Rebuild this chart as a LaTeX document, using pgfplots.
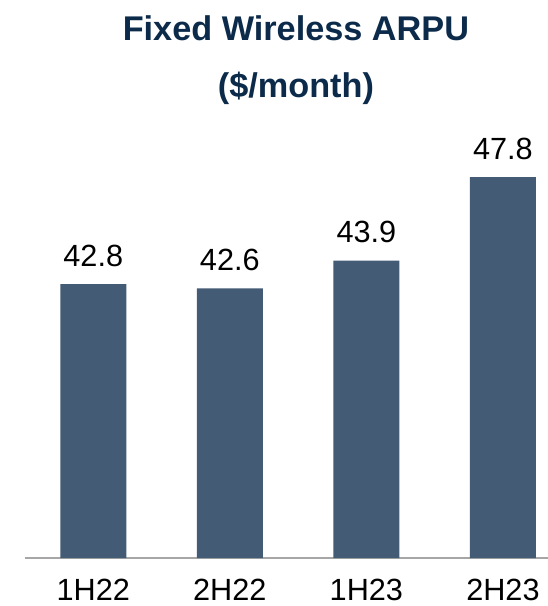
\documentclass[border=0pt]{standalone}
\usepackage{fontspec}
\setmainfont{Liberation Sans}
\usepackage{pgfplots}
\pgfplotsset{compat=1.18}
\definecolor{barc}{HTML}{435B74}
\definecolor{titlec}{HTML}{0C2A4A}
\definecolor{axc}{HTML}{A6A6A6}
\begin{document}
\begin{tikzpicture}
\begin{axis}[
  at={(0,0)}, anchor=south west,
  scale only axis,
  width=392.25pt, height=321pt,
  xmin=-0.5, xmax=3.33,
  ymin=30, ymax=50,
  axis x line=bottom,
  axis y line=none,
  axis line style={axc, line width=1.5pt, -},
  xtick={0,1,2,3},
  xticklabels={1H22,2H22,1H23,2H23},
  xtick style={draw=none},
  xticklabel style={anchor=center, yshift=-22pt, font=\fontsize{23}{27}\selectfont},
  ytick=\empty,
  clip=false,
  point meta=explicit symbolic,
  nodes near coords,
  nodes near coords style={anchor=center, yshift=21.4pt, font=\fontsize{23}{27}\selectfont, text=black},
]
\addplot[ybar, bar width=49.5pt, fill=barc, draw=none] coordinates {
  (0,42.8) [42.8]
  (1,42.6) [42.6]
  (2,43.9) [43.9]
  (3,47.8) [47.8]
};
\node[font=\fontsize{25.7}{30}\selectfont\bfseries, text=titlec, anchor=center] at (rel axis cs:0.518,1) [yshift=76.5pt] {Fixed Wireless ARPU};
\node[font=\fontsize{25.7}{30}\selectfont\bfseries, text=titlec, anchor=center] at (rel axis cs:0.518,1) [yshift=31pt] {(\$/month)};
\end{axis}
\pgfresetboundingbox
\useasboundingbox (-18.75pt,-36pt) rectangle (392.25pt,418.5pt);
\end{tikzpicture}
\end{document}
